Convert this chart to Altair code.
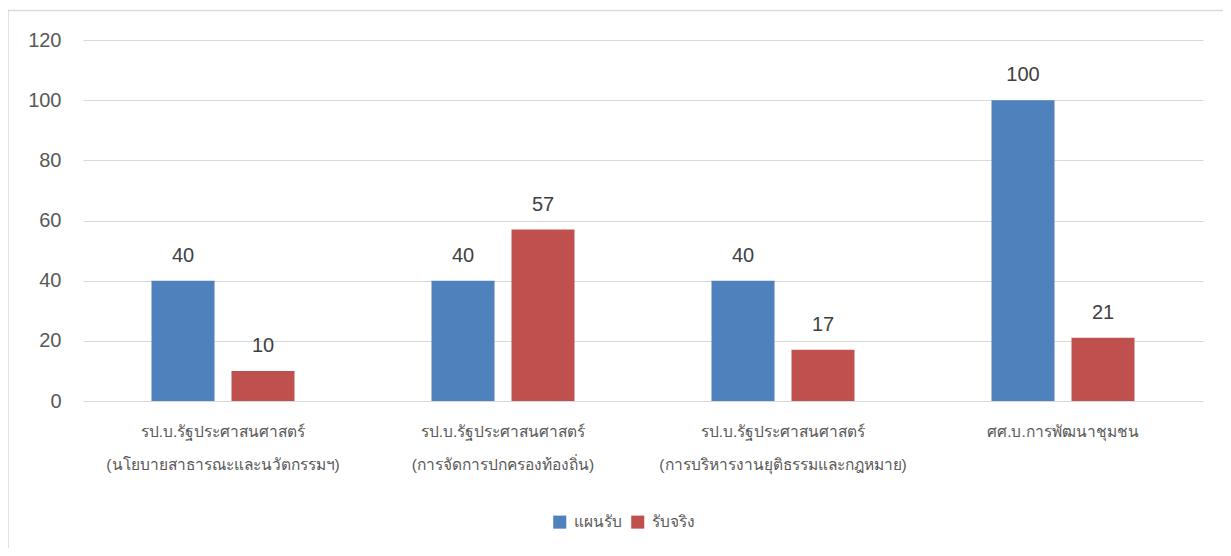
import altair as alt
import pandas as pd

categories = [
    "รป.บ.รัฐประศาสนศาสตร์|(นโยบายสาธารณะและนวัตกรรมฯ)",
    "รป.บ.รัฐประศาสนศาสตร์|(การจัดการปกครองท้องถิ่น)",
    "รป.บ.รัฐประศาสนศาสตร์|(การบริหารงานยุติธรรมและกฎหมาย)",
    "ศศ.บ.การพัฒนาชุมชน",
]
series = ["แผนรับ", "รับจริง"]
plan = [40, 40, 40, 100]
actual = [10, 57, 17, 21]
colors = ["#4F81BD", "#C0504D"]
y_ticks = [0, 20, 40, 60, 80, 100, 120]

rows = []
for c, p, a in zip(categories, plan, actual):
    rows.append({"cat": c, "series": series[0], "value": p})
    rows.append({"cat": c, "series": series[1], "value": a})
df = pd.DataFrame(rows)

W, H = 1120, 361
FONT = "Liberation Sans"

x_enc = alt.X(
    "cat:N", sort=categories,
    scale=alt.Scale(paddingInner=0, paddingOuter=0),
    axis=alt.Axis(
        title=None, labelExpr="split(datum.label, '|')", labelAngle=0,
        ticks=False, domain=False, grid=False, labelPadding=30,
        labelLineHeight=33, labelFontSize=15.5, labelColor="#595959",
        labelBaseline="middle", labelLimit=0, labelFont=FONT,
    ),
)
xo_enc = alt.XOffset(
    "series:N", sort=series,
    scale=alt.Scale(domain=series, paddingInner=0.2125, paddingOuter=0.85625),
)
y_enc = alt.Y(
    "value:Q",
    scale=alt.Scale(domain=[0, 120], nice=False),
    axis=alt.Axis(
        title=None, values=y_ticks, domain=False, ticks=False, grid=True,
        gridColor="#D9D9D9", gridWidth=1, labelFontSize=20,
        labelColor="#595959", labelPadding=22, labelFont=FONT,
    ),
)

base = alt.Chart(df).encode(x=x_enc, xOffset=xo_enc, y=y_enc)

bars = base.mark_bar().encode(
    color=alt.Color(
        "series:N", sort=series,
        scale=alt.Scale(domain=series, range=colors),
        legend=alt.Legend(
            title=None, orient="none", legendX=469, legendY=474,
            direction="horizontal", symbolType="square", symbolSize=170,
            symbolStrokeWidth=0, labelFontSize=15.5, labelColor="#595959",
            columnPadding=8, labelOffset=6, labelFont=FONT,
        ),
    )
)

labels = base.mark_text(
    baseline="alphabetic", dy=-19, fontSize=20, color="#404040", font=FONT
).encode(text="value:Q")

border = alt.Chart(pd.DataFrame({"a": [0]})).mark_rect(
    fill=None, stroke="#D9D9D9", strokeWidth=1.5
).encode(
    x=alt.value(-75), x2=alt.value(1300),
    y=alt.value(-29.5), y2=alt.value(700),
)

chart = alt.layer(border, bars, labels).properties(
    width=W, height=H,
    padding={"left": 75, "top": 32, "right": 20, "bottom": 147},
    autosize=alt.AutoSizeParams(type="none"),
).configure_view(stroke=None)

chart.save("out.html", embed_options={"renderer": "svg", "actions": False})
